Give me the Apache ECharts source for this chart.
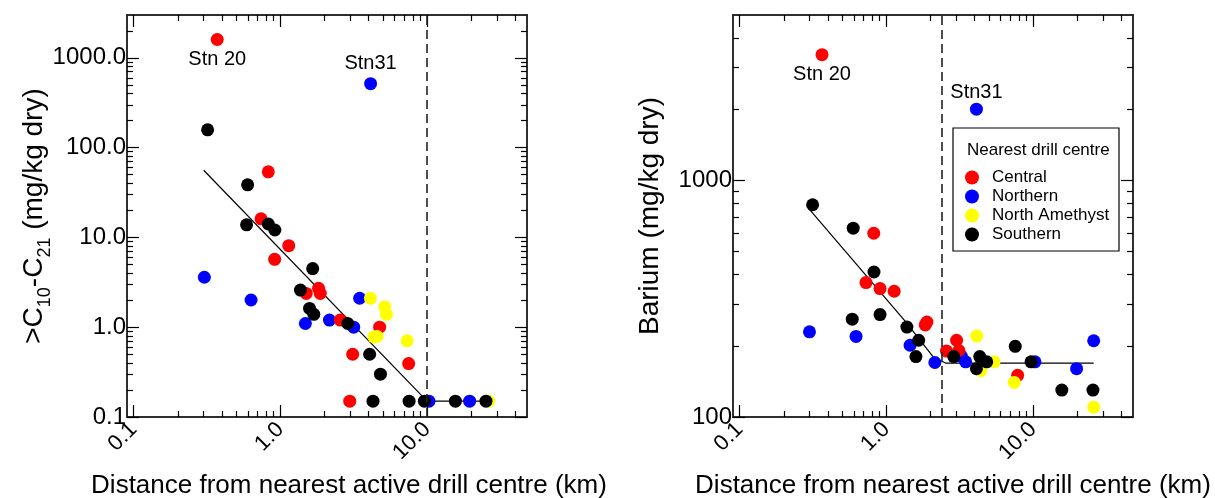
<!DOCTYPE html>
<html>
<head>
<meta charset="utf-8">
<title>Hydrocarbons and barium vs distance from drill centres</title>
<script src="https://cdn.jsdelivr.net/npm/echarts@6/dist/echarts.min.js"></script>
<style>
  html, body { margin: 0; padding: 0; background: #ffffff; }
  #chart { width: 1215px; height: 498px; }
</style>
</head>
<body>
<div id="chart"></div>
<script>
// ---- Left panel: >C10-C21 hydrocarbons (mg/kg dry) vs distance (km) ----
const hcCentral = [[0.371, 1600], [0.827, 53.8], [0.738, 16.1], [1.14, 8.1], [0.914, 5.7],
  [1.50, 2.38], [1.82, 2.71], [1.87, 2.38], [2.56, 1.20], [4.75, 1.0], [3.11, 0.50],
  [7.49, 0.394], [2.97, 0.15]];
const hcNorthern = [[4.12, 516], [0.303, 3.6], [0.631, 2.01], [1.48, 1.10], [2.16, 1.20],
  [3.16, 1.0], [3.47, 2.10], [10.3, 0.15], [19.5, 0.15]];
const hcNorthAmethyst = [[4.11, 2.10], [5.14, 1.69], [5.28, 1.39], [4.33, 0.78], [4.56, 0.79],
  [7.31, 0.705], [26.3, 0.15]];
const hcSouthern = [[0.319, 158], [0.598, 38.5], [0.588, 13.8], [0.827, 14.1], [0.917, 12.1],
  [1.66, 4.5], [1.37, 2.59], [1.58, 1.62], [1.69, 1.39], [2.88, 1.10], [4.06, 0.50],
  [4.81, 0.30], [4.28, 0.15], [7.54, 0.15], [9.59, 0.15], [15.6, 0.15], [25.2, 0.15]];
const hcTrend = [[0.30, 56], [10, 0.15], [25.2, 0.15]];
const hcThreshold = 10;

// ---- Right panel: barium (mg/kg dry) vs distance (km) ----
const baCentral = [[0.364, 3400], [0.82, 598], [0.726, 370], [0.905, 349], [1.13, 340],
  [1.84, 245], [1.89, 252], [2.57, 190], [3.01, 211], [3.12, 191], [7.85, 150]];
const baNorthern = [[4.11, 2000], [0.299, 229], [0.621, 219], [1.45, 201], [2.14, 170],
  [3.24, 181], [3.47, 171], [10.3, 171], [19.8, 160], [25.9, 210]];
const baNorthAmethyst = [[4.13, 220], [4.40, 157], [5.42, 171], [7.44, 140], [25.9, 110]];
const baSouthern = [[0.314, 789], [0.594, 628], [0.823, 410], [0.585, 259], [0.905, 271],
  [1.38, 240], [1.66, 211], [1.59, 180], [2.88, 180], [4.33, 180], [4.11, 160], [4.83, 171],
  [7.56, 199], [9.69, 171], [15.7, 130], [25.6, 130]];
const baTrend = [[0.30, 752], [1.36, 252], [2.09, 179], [2.53, 169], [25.9, 169]];
const baThreshold = 2.38;

// Named stations: [series name, index in that series, text]
const hcStations = [['Central', 0, 'Stn 20'], ['Northern', 0, 'Stn31']];
const baStations = [['Central', 0, 'Stn 20'], ['Northern', 0, 'Stn31']];

// ---- Axis ticks and labels ----
const xRange = [0.09, 48];
const xMajor = [0.1, 1, 10];
const xMinor = [0.2, 0.3, 0.4, 0.5, 0.6, 0.7, 0.8, 0.9, 2, 3, 4, 5, 6, 7, 8, 9, 20, 30, 40];
const hcRange = [0.1, 3000];
const hcMajor = [0.1, 1, 10, 100, 1000];
const hcMinor = [0.2, 0.3, 0.4, 0.5, 0.6, 0.7, 0.8, 0.9, 2, 3, 4, 5, 6, 7, 8, 9,
  20, 30, 40, 50, 60, 70, 80, 90, 200, 300, 400, 500, 600, 700, 800, 900, 2000];
const baRange = [100, 5000];
const baMajor = [100, 1000];
const baMinor = [200, 300, 400, 500, 600, 700, 800, 900, 2000, 3000, 4000];

const groups = ['Central', 'Northern', 'North Amethyst', 'Southern'];
const colors = { 'Central': '#ff0000', 'Northern': '#0000ff', 'North Amethyst': '#ffff00', 'Southern': '#000000' };
const FONT = 'Liberation Sans, Arial, Helvetica, sans-serif';

function logAxis(grid, pos, range, ticks, tickLen, labels, labelFmt, labelOpts) {
  return {
    type: 'log', logBase: 10, gridIndex: grid, position: pos,
    min: range[0], max: range[1],
    axisLine: { show: true, onZero: false, lineStyle: { color: '#222', width: 1.5 } },
    axisTick: { show: true, inside: true, length: tickLen, customValues: ticks,
      lineStyle: { color: '#000', width: 1.2 } },
    axisLabel: labels ? Object.assign({
      show: true, customValues: labels, formatter: labelFmt,
      color: '#000', fontFamily: FONT
    }, labelOpts) : { show: false },
    splitLine: { show: false },
    minorTick: { show: false },
    splitArea: { show: false },
    axisPointer: { show: false }
  };
}

function xAxesFor(grid) {
  return [
    logAxis(grid, 'bottom', xRange, xMajor, 12, xMajor, v => Number(v).toFixed(1),
      { fontSize: 22, rotate: 45, margin: 9 }),
    logAxis(grid, 'bottom', xRange, xMinor, 6, null),
    logAxis(grid, 'top', xRange, xMajor, 12, null),
    logAxis(grid, 'top', xRange, xMinor, 6, null)
  ];
}

function yAxesFor(grid, range, major, minor, fmt) {
  return [
    logAxis(grid, 'left', range, major, 12, major, fmt, { fontSize: 24, margin: 1 }),
    logAxis(grid, 'left', range, minor, 6, null),
    logAxis(grid, 'right', range, major, 12, null),
    logAxis(grid, 'right', range, minor, 6, null)
  ];
}

function scatterSeries(axisIdx, name, points, stations, placement) {
  const data = points.map((p, i) => {
    const st = stations.find(s => s[0] === name && s[1] === i);
    if (!st) return p;
    const pl = placement[st[2]];
    return {
      value: p,
      label: { show: true, formatter: st[2], position: pl[0], distance: pl[1],
        fontSize: 20, fontFamily: FONT, color: '#000' }
    };
  });
  return {
    type: 'scatter', name: name, xAxisIndex: axisIdx, yAxisIndex: axisIdx,
    symbol: 'circle', symbolSize: 13, data: data,
    itemStyle: { color: colors[name], opacity: 1 },
    emphasis: { disabled: true }, silent: true
  };
}

function panelSeries(axisIdx, sets, stations, placement, trend, threshold) {
  // draw order: Northern, Central, North Amethyst, Southern (later ones on top)
  const order = ['Northern', 'Central', 'North Amethyst', 'Southern'];
  const list = [{
    type: 'line', xAxisIndex: axisIdx, yAxisIndex: axisIdx, data: trend,
    symbol: 'none', silent: true, z: 1,
    lineStyle: { color: '#000', width: 1.2 },
    markLine: {
      symbol: 'none', silent: true, label: { show: false },
      lineStyle: { color: '#222', width: 1.6, type: [9, 5] },
      data: [{ xAxis: threshold }]
    }
  }];
  order.forEach(n => list.push(scatterSeries(axisIdx, n, sets[n], stations, placement)));
  return list;
}

const hcSets = { 'Central': hcCentral, 'Northern': hcNorthern, 'North Amethyst': hcNorthAmethyst, 'Southern': hcSouthern };
const baSets = { 'Central': baCentral, 'Northern': baNorthern, 'North Amethyst': baNorthAmethyst, 'Southern': baSouthern };

const chart = echarts.init(document.getElementById('chart'), null, { renderer: 'canvas' });

const option = {
  backgroundColor: '#ffffff',
  animation: false,
  textStyle: { fontFamily: FONT },
  grid: [
    { left: 127, top: 15, width: 400, height: 402, containLabel: false },
    { left: 733, top: 15, width: 400, height: 402, containLabel: false }
  ],
  xAxis: [].concat(xAxesFor(0), xAxesFor(1)),
  yAxis: [].concat(
    yAxesFor(0, hcRange, hcMajor, hcMinor, v => Number(v).toFixed(1)),
    yAxesFor(1, baRange, baMajor, baMinor, v => String(Math.round(v)))
  ),
  legend: {
    data: groups, orient: 'vertical', left: 960, top: 164,
    icon: 'circle', itemWidth: 14, itemHeight: 14, itemGap: 2,
    selectedMode: false, z: 20,
    textStyle: { fontSize: 17, fontFamily: FONT, color: '#000', padding: [0, 0, 0, 8], lineHeight: 14 }
  },
  series: [].concat(
    panelSeries(0, hcSets, hcStations, { 'Stn 20': ['bottom', 3], 'Stn31': ['top', 4] }, hcTrend, hcThreshold),
    panelSeries(4, baSets, baStations, { 'Stn 20': ['bottom', 3], 'Stn31': ['top', 0] }, baTrend, baThreshold)
  ),
  graphic: [
    { type: 'rect', z: 10, shape: { x: 953, y: 128, width: 166, height: 123 },
      style: { fill: '#ffffff', stroke: '#000', lineWidth: 1.2 } },
    { type: 'text', z: 11, x: 967, y: 150,
      style: { text: 'Nearest drill centre', font: '17px ' + FONT, fill: '#000',
        align: 'left', verticalAlign: 'middle' } },
    { type: 'text', x: 34, y: 216, rotation: Math.PI / 2,
      style: {
        text: '>C{sub|10}-C{sub|21} (mg/kg dry)', font: '28px ' + FONT, fill: '#000',
        align: 'center', verticalAlign: 'middle', lineHeight: 40,
        rich: { sub: { fontSize: 18, fontFamily: FONT, verticalAlign: 'bottom', fill: '#000', lineHeight: 40 } }
      } },
    { type: 'text', x: 650, y: 216, rotation: Math.PI / 2,
      style: { text: 'Barium (mg/kg dry)', font: '28px ' + FONT, fill: '#000',
        align: 'center', verticalAlign: 'middle' } },
    { type: 'text', x: 349, y: 486,
      style: { text: 'Distance from nearest active drill centre (km)', font: '26px ' + FONT,
        fill: '#000', align: 'center', verticalAlign: 'middle' } },
    { type: 'text', x: 953, y: 486,
      style: { text: 'Distance from nearest active drill centre (km)', font: '26px ' + FONT,
        fill: '#000', align: 'center', verticalAlign: 'middle' } }
  ]
};

chart.setOption(option);
</script>
</body>
</html>
